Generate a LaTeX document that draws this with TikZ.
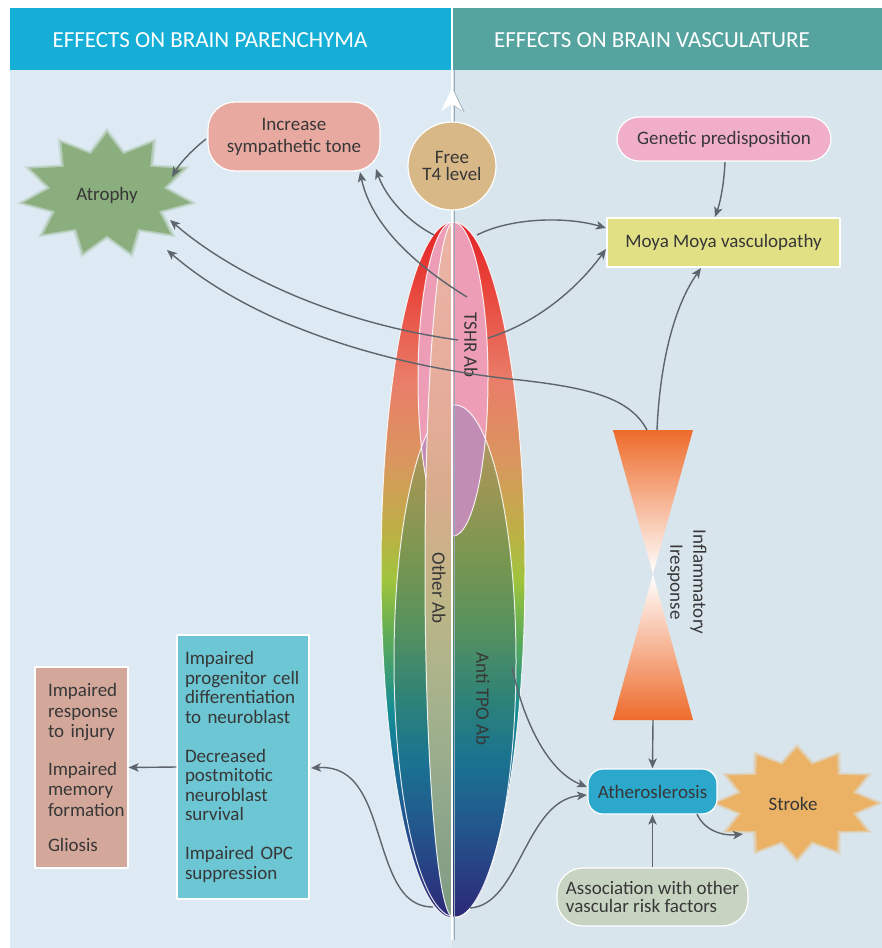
\documentclass[tikz,border=0pt]{standalone}
\usepackage{fontspec}
\setmainfont{Carlito}
\usetikzlibrary{arrows.meta}
\definecolor{hdrL}{RGB}{20,174,214}
\definecolor{hdrR}{RGB}{86,164,160}
\definecolor{bgL}{RGB}{221,234,243}
\definecolor{bgR}{RGB}{217,229,236}
\definecolor{txt}{RGB}{55,55,55}
\definecolor{conncol}{RGB}{93,100,108}
\definecolor{incc}{RGB}{232,169,160}
\definecolor{t4c}{RGB}{217,184,135}
\definecolor{genc}{RGB}{240,174,200}
\definecolor{moyac}{RGB}{226,224,133}
\definecolor{athc}{RGB}{43,168,204}
\definecolor{assc}{RGB}{200,212,194}
\definecolor{strokec}{RGB}{235,178,101}
\definecolor{atrc}{RGB}{139,174,126}
\definecolor{brownc}{RGB}{211,168,154}
\definecolor{bluec}{RGB}{108,198,211}
\definecolor{hgc}{RGB}{238,107,43}
\definecolor{hgmid}{RGB}{245,178,150}
\definecolor{pinkc}{RGB}{238,157,183}
\definecolor{purpc}{RGB}{194,141,181}
\definecolor{shadowc}{RGB}{150,170,185}
% rainbow
\definecolor{rb0}{RGB}{229,34,39}
\definecolor{rb1}{RGB}{232,70,60}
\definecolor{rb2}{RGB}{233,125,105}
\definecolor{rb3}{RGB}{218,150,95}
\definecolor{rb4}{RGB}{190,175,70}
\definecolor{rb5}{RGB}{160,196,60}
\definecolor{rb6}{RGB}{90,170,90}
\definecolor{rb7}{RGB}{20,140,150}
\definecolor{rb8}{RGB}{25,105,150}
\definecolor{rb9}{RGB}{40,70,140}
\definecolor{rb10}{RGB}{46,38,115}
\pgfdeclareverticalshading{rainbow}{100bp}{color(0bp)=(rb10); color(25bp)=(rb10); color(29.9bp)=(rb9); color(34.9bp)=(rb8); color(39.9bp)=(rb7); color(45bp)=(rb6); color(49.3bp)=(rb5); color(52.9bp)=(rb4); color(57.9bp)=(rb3); color(63.65bp)=(rb2); color(70.1bp)=(rb1); color(75bp)=(rb0); color(100bp)=(rb0)}
% TPO
\definecolor{tp0}{RGB}{185,150,110}
\definecolor{tp1}{RGB}{160,150,85}
\definecolor{tp2}{RGB}{120,150,80}
\definecolor{tp3}{RGB}{85,145,95}
\definecolor{tp4}{RGB}{45,130,120}
\definecolor{tp5}{RGB}{25,115,145}
\definecolor{tp6}{RGB}{35,85,140}
\definecolor{tp7}{RGB}{45,40,120}
\pgfdeclareverticalshading{tposhade}{100bp}{color(0bp)=(tp7); color(25bp)=(tp7); color(33.5bp)=(tp6); color(40.3bp)=(tp5); color(46.2bp)=(tp4); color(53bp)=(tp3); color(59.9bp)=(tp2); color(67.7bp)=(tp1); color(75bp)=(tp0); color(100bp)=(tp0)}
% Other Ab
\definecolor{ot0}{RGB}{235,180,165}
\definecolor{ot1}{RGB}{230,172,155}
\definecolor{ot2}{RGB}{215,172,140}
\definecolor{ot3}{RGB}{190,182,135}
\definecolor{ot4}{RGB}{165,178,140}
\definecolor{ot5}{RGB}{145,168,140}
\definecolor{ot6}{RGB}{125,155,130}
\pgfdeclareverticalshading{othshade}{100bp}{color(0bp)=(ot6); color(25bp)=(ot6); color(33.4bp)=(ot5); color(40.6bp)=(ot4); color(47.8bp)=(ot3); color(55bp)=(ot2); color(62.25bp)=(ot1); color(75bp)=(ot0); color(100bp)=(ot0)}
\tikzset{
  lbl/.style={font=\fontsize{19}{19.5}\selectfont, text=txt, inner sep=0pt},
  boxs/.style={lbl, draw=white, line width=1.2pt, align=center},
  conn/.style={draw=conncol, line width=1.4pt, -{Stealth[length=10pt,width=8.5pt,inset=2.5pt]}},
  hdr/.style={font=\fontsize{23}{25}\selectfont, text=white, inner sep=0pt},
  rot/.style={lbl, rotate=-90},
  outl/.style={draw=white, line width=1pt, opacity=0.85}
}
\begin{document}
\begin{tikzpicture}[x=1pt,y=-1pt,line join=round]
\useasboundingbox (0,0) rectangle (882,948);
\fill[white] (0,0) rectangle (882,948);
\fill[bgL] (10,70) rectangle (452,948);
\fill[bgR] (452,70) rectangle (882,948);
\fill[hdrL] (10,8) rectangle (452,70);
\fill[hdrR] (452,8) rectangle (882,70);
\node[hdr] (hL) at (210,40) {EFFECTS ON BRAIN PARENCHYMA};
\node[hdr] (hR) at (652,40) {EFFECTS ON BRAIN VASCULATURE};

% stars
\foreach \s/\o in {1.09/0.2,1.05/0.4,1.0/1} {
  \fill[atrc, opacity=\o] plot[samples at={0,...,21}, variable=\k]
    ({107+84*\s*(0.84+0.16*cos(\k*180))*cos(\k*360/22-90)},
     {194+61*\s*(0.84+0.16*cos(\k*180))*sin(\k*360/22-90)}) -- cycle;
  \fill[strokec, opacity=\o] plot[samples at={0,...,23}, variable=\k]
    ({797+80*\s*(0.86+0.14*cos(\k*180))*cos(\k*360/24-90)},
     {803+55*\s*(0.86+0.14*cos(\k*180))*sin(\k*360/24-90)}) -- cycle;
}
\node[lbl] (atr) at (107,195) {Atrophy};
\node[lbl] (str) at (793,804) {Stroke};

% hourglass
\shade[top color=hgc, middle color=hgmid, bottom color=white] (613,430) -- (693,430) -- (653,574) -- cycle;
\shade[top color=white, middle color=hgmid, bottom color=hgc] (653,574) -- (693,720) -- (613,720) -- cycle;
\node[lbl, rotate=-90, align=center, font=\fontsize{19}{23}\selectfont] (infl) at (687,582) {Inflammatory\\Iresponse};

% ellipses
\shade[shading=rainbow] (453,570) ellipse [x radius=72, y radius=348];
\shade[shading=tposhade] (455,661) ellipse [x radius=61, y radius=256];
\fill[pinkc] (453,379) ellipse [x radius=35, y radius=157];
\begin{scope}
  \clip (455,661) ellipse [x radius=61, y radius=256];
  \fill[purpc] (453,379) ellipse [x radius=35, y radius=157];
\end{scope}
\draw[outl] (453,570) ellipse [x radius=72, y radius=348];
\draw[outl] (455,661) ellipse [x radius=61, y radius=256];
\draw[outl] (453,379) ellipse [x radius=35, y radius=157];
\begin{scope}
  \clip (0,0) rectangle (452,948);
  \shade[shading=othshade] (453,570) ellipse [x radius=28, y radius=347];
  \draw[outl] (453,570) ellipse [x radius=28, y radius=347];
\end{scope}

% centre line
\draw[shadowc, line width=0.9pt] (454.2,70) -- (454.2,940);
\draw[white, line width=2.2pt] (452,8) -- (452,940);
\fill[shadowc] (453.5,89.5) -- (464.5,112) -- (453.5,106) -- cycle;
\fill[white] (452,88) -- (463,111) -- (452,104) -- (441,111) -- cycle;

\node[rot] (tshr) at (471,345) {TSHR Ab};
\node[rot] (oth) at (439,588) {Other Ab};
\node[rot] (tpo) at (483,699) {Anti TPO Ab};

% boxes
\node[boxs, fill=incc, rounded corners=27pt, minimum width=172pt, minimum height=69pt, font=\fontsize{19}{22}\selectfont] (inc) at (294,136.5) {Increase\\sympathetic tone};
\node[boxs, fill=t4c, circle, minimum size=88pt, font=\fontsize{19}{17.5}\selectfont] (t4) at (452,166) {Free\\T4 level};
\node[boxs, fill=genc, rounded corners=22pt, minimum width=214pt, minimum height=44pt] (gen) at (724,139) {Genetic predisposition};
\node[boxs, fill=moyac, minimum width=233pt, minimum height=49pt] (moya) at (723.5,242.5) {Moya Moya vasculopathy};
\node[boxs, fill=athc, rounded corners=15pt, minimum width=129pt, minimum height=45pt] (ath) at (652.5,791.5) {Atheroslerosis};
\node[boxs, fill=assc, rounded corners=26pt, minimum width=191pt, minimum height=58pt, align=left, font=\fontsize{19}{18}\selectfont] (ass) at (652.5,897) {Association with other\\vascular risk factors};
\node[boxs, fill=bluec, minimum width=132pt, minimum height=264pt, text width=116pt, align=left] (blue) at (243,767) {Impaired\\progenitor cell\\differentiation\\to neuroblast\\[19.5pt]Decreased\\postmitotic\\neuroblast\\survival\\[19.5pt]Impaired OPC\\suppression};
\node[boxs, fill=brownc, minimum width=93pt, minimum height=201pt, text width=67pt, align=left, font=\fontsize{19}{20.5}\selectfont] (brown) at (81.5,767.5) {Impaired\\response\\to injury\\[17pt]Impaired\\memory\\formation\\[15pt]Gliosis};

% connector end points
\coordinate (incL) at (206,139);
\coordinate (atrA) at (172,177);
\coordinate (oTopL) at (434,235);
\coordinate (incA) at (376,169);
\coordinate (tshrA) at (467,297);
\coordinate (incB) at (360,172);
\coordinate (tshrB) at (458,340);
\coordinate (atrB) at (170,220);
\coordinate (hgTL) at (647,430);
\coordinate (atrC) at (167,250);
\coordinate (oTopR) at (477,235);
\coordinate (moyaA) at (606,228);
\coordinate (tshrR) at (488,338);
\coordinate (moyaB) at (606,249);
\coordinate (genB) at (725,162);
\coordinate (moyaT) at (715,217);
\coordinate (hgTR) at (657,430);
\coordinate (moyaBt) at (701,268);
\coordinate (hgB) at (653,720);
\coordinate (tpoR) at (512,667);
\coordinate (athA) at (587,787);
\coordinate (ovB) at (470,908);
\coordinate (athB) at (587,795);
\coordinate (athBR) at (697,814);
\coordinate (strL) at (743,834);
\coordinate (ovBL) at (433,907);
\coordinate (blueR) at (311,768);

% connectors
\draw[conn] (incL) .. controls (192,150) and (180,163) .. (atrA);
\draw[conn] (oTopL) .. controls (405,220) and (385,195) .. (incA);
\draw[conn] (tshrA) .. controls (420,268) and (372,228) .. (incB);
\draw[conn] (tshrB) .. controls (330,322) and (230,272) .. (atrB);
\draw[conn] (hgTL) .. controls (630,398) and (590,388) .. (520,380) .. controls (400,368) and (260,330) .. (atrC);
\draw[conn] (oTopR) .. controls (510,218) and (565,216) .. (moyaA);
\draw[conn] (tshrR) .. controls (540,322) and (580,285) .. (moyaB);
\draw[conn] (genB) .. controls (724,185) and (720,203) .. (moyaT);
\draw[conn] (hgTR) .. controls (660,360) and (675,305) .. (moyaBt);
\draw[conn] (hgB) -- (ath.north);
\draw[conn] (tpoR) .. controls (522,715) and (545,770) .. (athA);
\draw[conn] (ovB) .. controls (520,905) and (525,800) .. (athB);
\draw[conn] (ass.north) -- (ath.south);
\draw[conn] (athBR) .. controls (705,832) and (725,836) .. (strL);
\draw[conn] (ovBL) .. controls (395,907) and (388,860) .. (372,815) .. controls (360,782) and (345,766) .. (blueR);
\draw[conn] (blue.west) -- (brown.east);
\end{tikzpicture}
\end{document}
